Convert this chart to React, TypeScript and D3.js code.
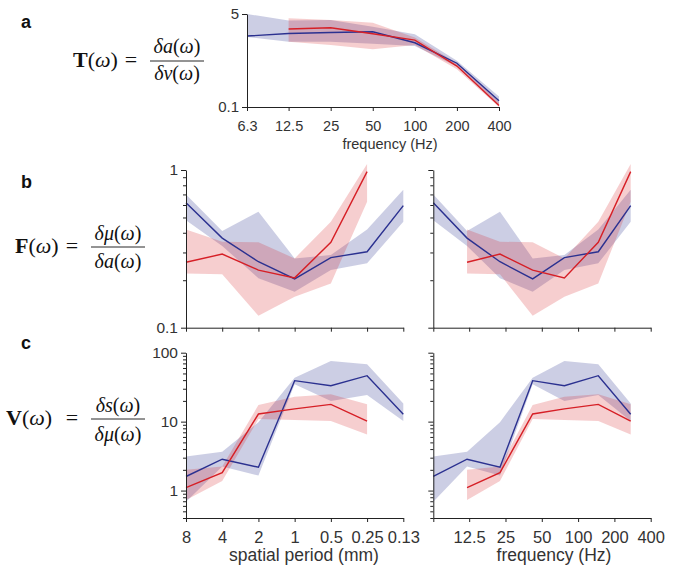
import { useEffect, useRef } from "react";
import * as d3 from "d3";

const BLUE = "#2b3190";
const RED = "#d61f26";
const SANS = "'Liberation Sans', Arial, Helvetica, sans-serif";
const SERIF = "'Liberation Serif', 'Times New Roman', serif";

// panel a : transfer function, x = frequency
const freqA = [6.3, 12.5, 25, 50, 100, 200, 400];
const freqARed = [12.5, 25, 50, 100, 200, 400];
const blueT = [1.98, 2.2, 2.3, 2.37, 1.49, 0.63, 0.13];
const blueTHi = [5.0, 3.8, 3.9, 2.93, 2.13, 0.7, 0.155];
const blueTLo = [1.9, 1.56, 1.56, 1.43, 1.3, 0.55, 0.11];
const redT = [2.66, 2.8, 2.18, 1.67, 0.56, 0.107];
const redTHi = [4.2, 3.9, 3.47, 1.87, 0.63, 0.125];
const redTLo = [1.56, 1.36, 1.13, 1.36, 0.49, 0.1];

// b / c : x positions (spatial period & frequency)
const periodBlue = [8, 4, 2, 1, 0.5, 0.25, 0.125];
const periodRed = [8, 4, 2, 1, 0.5, 0.25];
const freqBlue = [6.3, 12, 22.5, 42, 77, 147, 273];
const freqRed = [12, 22.5, 42, 77, 147, 273];

// panel b
const blueF = [0.62, 0.37, 0.262, 0.204, 0.278, 0.303, 0.594];
const blueFHi = [0.7, 0.41, 0.544, 0.275, 0.289, 0.42, 0.75];
const blueFLo = [0.48, 0.33, 0.206, 0.169, 0.232, 0.256, 0.47];
const redF = [0.26, 0.293, 0.232, 0.207, 0.348, 0.976];
const redFHi = [0.42, 0.351, 0.348, 0.275, 0.47, 1.09];
const redFLo = [0.221, 0.218, 0.119, 0.157, 0.191, 0.63];

// panel c
const blueV = [1.6, 2.85, 2.18, 39.3, 33.2, 46.4, 12.8];
const blueVHi = [3.11, 3.67, 9.8, 43.4, 75.7, 67.8, 18.4];
const blueVLo = [0.69, 2.23, 1.65, 35, 20, 24.3, 10.2];
const redV = [1.1, 1.82, 12.9, 15.3, 17.8, 10.2];
const redVHi = [2.0, 2.23, 17.4, 23, 24.9, 17.8];
const redVLo = [0.73, 1.38, 10.9, 10.6, 10.2, 6.5];

const periodTicks = [8, 4, 2, 1, 0.5, 0.25, 0.125];
const periodLabels = ["8", "4", "2", "1", "0.5", "0.25", "0.13"];
const freqTicks = [6.3, 12.5, 25, 50, 100, 200, 400];
const freqLabels = ["6.3", "12.5", "25", "50", "100", "200", "400"];
const freqLabelsC = ["", "12.5", "25", "50", "100", "200", "400"];

export default function App() {
  const svgRef = useRef(null);

  useEffect(() => {
    draw();
  }, []);

  function band(g, x, y, xs, lo, hi, color, op) {
    const pts = xs.map((v, i) => ({ x: v, lo: lo[i], hi: hi[i] }));
    g.append("path")
      .attr("d", d3.area().x(d => x(d.x)).y0(d => y(d.lo)).y1(d => y(d.hi))(pts))
      .attr("fill", color)
      .attr("fill-opacity", op);
  }

  function line(g, x, y, xs, vals, color) {
    const pts = xs.map((v, i) => [v, vals[i]]);
    g.append("path")
      .attr("d", d3.line().x(d => x(d[0])).y(d => y(d[1]))(pts))
      .attr("fill", "none")
      .attr("stroke", color)
      .attr("stroke-width", 1.4);
  }

  function xAxis(g, x, yPos, ticks, labels, fontSize, labelY) {
    const ax = g.append("g")
      .attr("transform", `translate(0,${yPos})`)
      .call(d3.axisBottom(x).tickValues(ticks).tickSize(4).tickSizeOuter(0)
        .tickFormat((d, i) => (labels ? labels[i] : "")));
    ax.attr("font-family", SANS).attr("font-size", fontSize);
    ax.selectAll("line, path").attr("stroke", "#222");
    ax.selectAll("text").attr("y", labelY).attr("dy", "0").attr("fill", "#333");
  }

  function yAxis(g, y, xPos, majors, minors, showLabels, fontSize) {
    const ax = g.append("g")
      .attr("transform", `translate(${xPos},0)`)
      .call(d3.axisLeft(y).tickValues(majors).tickSize(5).tickSizeOuter(0).tickPadding(3)
        .tickFormat(d => (showLabels ? String(d) : "")));
    ax.attr("font-family", SANS).attr("font-size", fontSize);
    ax.selectAll("line, path").attr("stroke", "#222");
    ax.selectAll("text").attr("fill", "#333");
    if (minors.length) {
      const mn = g.append("g")
        .attr("transform", `translate(${xPos},0)`)
        .call(d3.axisLeft(y).tickValues(minors).tickSize(3).tickFormat(() => ""));
      mn.select(".domain").remove();
      mn.selectAll("line").attr("stroke", "#222");
    }
  }

  function formula(g, x0, base, letter, barX0, barX1, num, den, numBase, denBase) {
    const t = g.append("text").attr("x", x0).attr("y", base)
      .attr("font-family", SERIF).attr("font-size", 22).attr("fill", "#111");
    t.append("tspan").attr("font-weight", "bold").text(letter);
    t.append("tspan").text("(");
    t.append("tspan").attr("font-style", "italic").text("ω");
    t.append("tspan").text(")");
    g.append("text").attr("x", barX0 - 19).attr("y", base).attr("text-anchor", "middle")
      .attr("font-family", SERIF).attr("font-size", 22).attr("fill", "#111").text("=");
    g.append("line").attr("x1", barX0).attr("x2", barX1).attr("y1", base - 6).attr("y2", base - 6)
      .attr("stroke", "#111").attr("stroke-width", 0.9);
    const cx = (barX0 + barX1) / 2;
    [[num, numBase], [den, denBase]].forEach(([s, b]) => {
      const tt = g.append("text").attr("x", cx).attr("y", b).attr("text-anchor", "middle")
        .attr("font-family", SERIF).attr("font-size", 20).attr("fill", "#111");
      tt.append("tspan").attr("font-style", "italic").text("δ" + s);
      tt.append("tspan").text("(");
      tt.append("tspan").attr("font-style", "italic").text("ω");
      tt.append("tspan").text(")");
    });
  }

  function draw() {
    const svg = d3.select(svgRef.current);
    svg.selectAll("*").remove();
    const g = svg.append("g");

    // panel letters
    [["a", 21, 28], ["b", 21, 188], ["c", 21, 349]].forEach(([s, x, y]) => {
      g.append("text").attr("x", x).attr("y", y).attr("font-family", SANS)
        .attr("font-weight", "bold").attr("font-size", 18).attr("fill", "#111").text(s);
    });

    formula(g, 73, 67, "T", 150, 204, "a", "v", 53, 80);
    formula(g, 15, 253, "F", 91, 145, "μ", "a", 240, 268);
    formula(g, 6, 425, "V", 91, 145, "s", "μ", 412, 441);

    // ---- panel a
    const xa = d3.scaleLog().domain([6.3, 400]).range([247, 499]);
    const ya = d3.scaleLog().domain([0.1, 5]).range([107, 14]);
    band(g, xa, ya, freqA, blueTLo, blueTHi, BLUE, 0.24);
    band(g, xa, ya, freqARed, redTLo, redTHi, RED, 0.22);
    line(g, xa, ya, freqA, blueT, BLUE);
    line(g, xa, ya, freqARed, redT, RED);
    xAxis(g, xa, 107, freqTicks, freqLabels, 14.5, 24);
    yAxis(g, ya, 247, [0.1, 5], [], true, 15);
    g.append("text").attr("x", 390).attr("y", 149).attr("text-anchor", "middle")
      .attr("font-family", SANS).attr("font-size", 14.5).attr("fill", "#333").text("frequency (Hz)");

    // ---- panel b
    const yb = d3.scaleLog().domain([0.1, 1]).range([327.7, 170]);
    const xbL = d3.scaleLog().domain([8, 0.125]).range([186, 403.3]);
    const xbR = d3.scaleLog().domain([6.3, 400]).range([433.3, 650.7]);
    const minorB = [0.2, 0.3, 0.4, 0.5, 0.6, 0.7, 0.8, 0.9];
    [[xbL, periodBlue, periodRed, 186, true], [xbR, freqBlue, freqRed, 433.3, false]].forEach(
      ([x, xsB, xsR, ax, lab]) => {
        band(g, x, yb, xsB, blueFLo, blueFHi, BLUE, 0.24);
        band(g, x, yb, xsR, redFLo, redFHi, RED, 0.22);
        line(g, x, yb, xsB, blueF, BLUE);
        line(g, x, yb, xsR, redF, RED);
        xAxis(g, x, 327.7, lab ? periodTicks : freqTicks, null, 15, 25);
        yAxis(g, yb, ax, [0.1, 1], minorB, lab, 15.5);
      }
    );

    // ---- panel c
    const yc = d3.scaleLog().domain([0.4, 100]).range([518, 352.7]);
    const minorC = [0.4, 0.5, 0.6, 0.7, 0.8, 0.9, 2, 3, 4, 5, 6, 7, 8, 9, 20, 30, 40, 50, 60, 70, 80, 90];
    const xcL = d3.scaleLog().domain([8, 0.125]).range([186, 403.3]);
    const xcR = d3.scaleLog().domain([6.3, 400]).range([433.3, 650.7]);
    [[xcL, periodBlue, periodRed, 186, true], [xcR, freqBlue, freqRed, 433.3, false]].forEach(
      ([x, xsB, xsR, ax, lab]) => {
        band(g, x, yc, xsB, blueVLo, blueVHi, BLUE, 0.24);
        band(g, x, yc, xsR, redVLo, redVHi, RED, 0.22);
        line(g, x, yc, xsB, blueV, BLUE);
        line(g, x, yc, xsR, redV, RED);
        xAxis(g, x, 518, lab ? periodTicks : freqTicks, lab ? periodLabels : freqLabelsC, 16.5, 25);
        yAxis(g, yc, ax, [1, 10, 100], minorC, lab, 15.5);
      }
    );
    g.append("text").attr("x", 304).attr("y", 561).attr("text-anchor", "middle")
      .attr("font-family", SANS).attr("font-size", 17.5).attr("fill", "#333").text("spatial period (mm)");
    g.append("text").attr("x", 554).attr("y", 561).attr("text-anchor", "middle")
      .attr("font-family", SANS).attr("font-size", 17.5).attr("fill", "#333").text("frequency (Hz)");
  }

  return (
    <svg
      ref={svgRef}
      width={681}
      height={572}
      style={{ position: "absolute", left: 0, top: 0, background: "#fff", display: "block" }}
    />
  );
}
